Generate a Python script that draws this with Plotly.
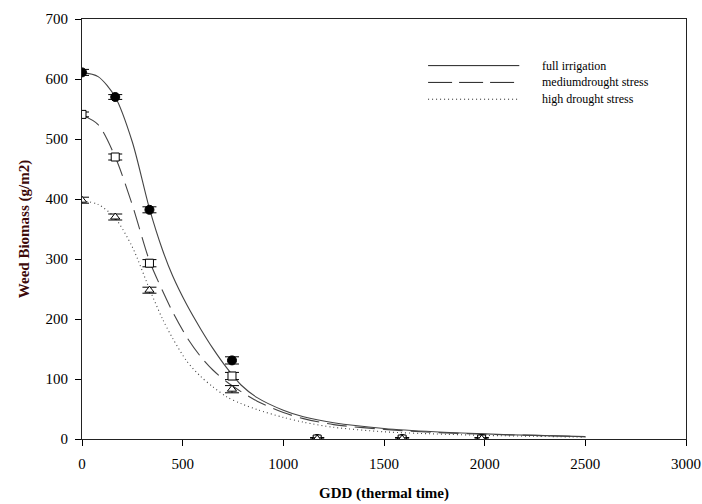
import plotly.graph_objects as go

# Observed data points
obs_x = [0, 165, 335, 745, 1168, 1590, 1985]
full_y = [611, 570, 382, 131, 0, 0, 0]
full_err = [5, 4, 5, 6, 2, 2, 2]
medium_y = [541, 470, 293, 105, 0, 0, 0]
medium_err = [4, 5, 6, 6, 2, 2, 2]
high_y = [398, 370, 248, 83, 0, 0, 0]
high_err = [5, 5, 5, 6, 2, 2, 2]

# Fitted curves
curve_x = [0, 80, 165, 250, 335, 400, 450, 520, 590, 650, 720, 790, 870,
           1000, 1100, 1250, 1500, 1750, 2000, 2250, 2500]
full_curve = [611, 604, 570, 495, 384, 315, 272, 224, 183, 151, 118, 90, 69,
              48, 37, 27, 17.5, 12, 8.5, 6, 4]
medium_curve = [540, 524, 470, 390, 297, 247, 212, 170, 137, 115, 95, 79, 63,
                44, 34, 24, 16, 11, 8, 6, 4]
high_curve = [397, 391, 368, 320, 250, 200, 168, 130, 104, 87, 70, 59, 49,
              36, 28, 19.5, 12, 8.5, 6, 4.5, 3]

legend_names = ["full irrigation", "mediumdrought stress", "high drought stress"]
x_ticks = [0, 500, 1000, 1500, 2000, 2500, 3000]
y_ticks = [0, 100, 200, 300, 400, 500, 600, 700]

FONT = "Liberation Serif, Times New Roman, serif"

fig = go.Figure()

for ys, dsh in [(full_curve, "solid"), (medium_curve, "20px,8px"), (high_curve, "1px,3px")]:
    fig.add_trace(go.Scatter(x=curve_x, y=ys, mode="lines", line_shape="spline",
                             line=dict(color="#444444", width=1.1, dash=dsh, smoothing=0.8),
                             showlegend=False, hoverinfo="skip"))

fig.add_trace(go.Scatter(x=obs_x, y=full_y, mode="markers",
                         marker=dict(symbol="circle", size=9, color="black",
                                     line=dict(color="black", width=1)),
                         error_y=dict(type="data", array=full_err, color="black",
                                      thickness=1, width=7),
                         showlegend=False))
fig.add_trace(go.Scatter(x=obs_x, y=medium_y, mode="markers",
                         marker=dict(symbol="square", size=8, color="white",
                                     line=dict(color="black", width=1)),
                         error_y=dict(type="data", array=medium_err, color="black",
                                      thickness=1, width=7),
                         showlegend=False))
fig.add_trace(go.Scatter(x=obs_x, y=high_y, mode="markers",
                         marker=dict(symbol="triangle-up", size=8, color="white",
                                     line=dict(color="black", width=1)),
                         error_y=dict(type="data", array=high_err, color="black",
                                      thickness=1, width=7),
                         showlegend=False))

# Legend drawn as line samples and labels
legend_rows = [0.889, 0.849, 0.809]
legend_dashes = ["solid", "24px,7px", "1px,3px"]
for name, yy, dsh in zip(legend_names, legend_rows, legend_dashes):
    fig.add_shape(type="line", xref="paper", yref="paper", x0=0.573, x1=0.724,
                  y0=yy, y1=yy, line=dict(color="#222222", width=1, dash=dsh))
    fig.add_annotation(xref="paper", yref="paper", x=0.758, y=yy, text=name,
                       showarrow=False, xanchor="left", yanchor="middle",
                       font=dict(family=FONT, size=12, color="black"))

fig.update_layout(
    width=702, height=504,
    margin=dict(l=82, r=16, t=19, b=65),
    paper_bgcolor="white", plot_bgcolor="white",
    font=dict(family=FONT, size=15, color="black"),
    showlegend=False,
)
fig.update_xaxes(range=[0, 3000], tickvals=x_ticks, ticks="outside", ticklen=6,
                 tickcolor="black", showline=True, linecolor="#222222", linewidth=1,
                 mirror=True, showgrid=False, zeroline=False, automargin=False,
                 ticklabelstandoff=5,
                 tickfont=dict(family=FONT, size=15, color="black"),
                 title=dict(text="<b>GDD (thermal time)</b>", standoff=16,
                            font=dict(family=FONT, size=15, color="black")))
fig.update_yaxes(range=[0, 700], tickvals=y_ticks, ticks="outside", ticklen=6,
                 tickcolor="black", showline=True, linecolor="#222222", linewidth=1,
                 mirror=True, showgrid=False, zeroline=False, automargin=False,
                 ticklabelstandoff=4,
                 tickfont=dict(family=FONT, size=15, color="black"),
                 title=dict(text="<b>Weed Biomass (g/m2)</b>", standoff=12,
                            font=dict(family=FONT, size=15, color="#3d0a0a")))

fig.write_html("out.html")
